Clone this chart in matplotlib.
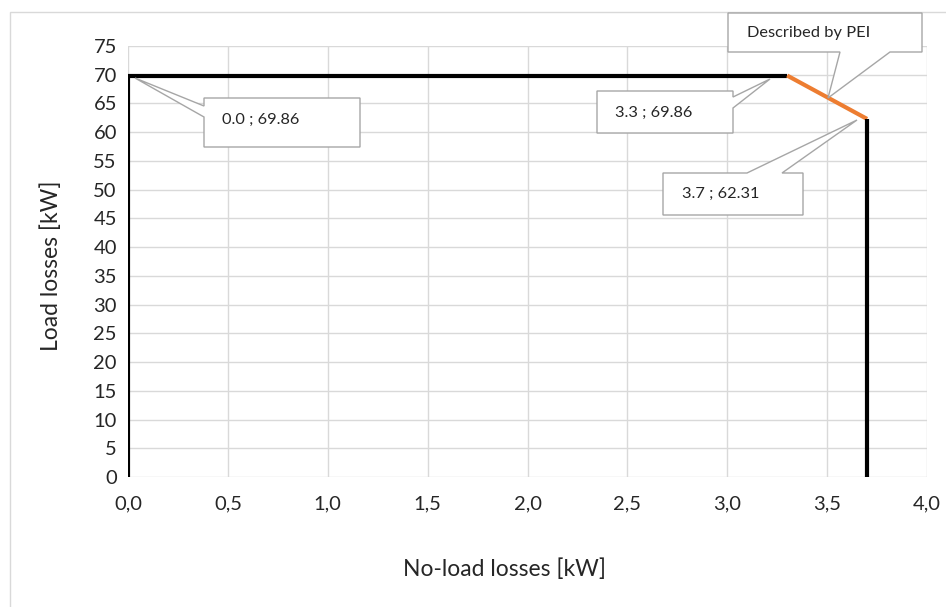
import matplotlib
matplotlib.use("Agg")
import matplotlib.pyplot as plt
from matplotlib.patches import Polygon, Rectangle
from matplotlib.transforms import IdentityTransform

plt.rcParams['font.family'] = ['Lato', 'DejaVu Sans']

# Дані кривої
xBlack1 = [0.0, 0.0, 3.3]
yBlack1 = [0.0, 69.86, 69.86]
xOrange = [3.3, 3.7]
yOrange = [69.86, 62.31]
xBlack2 = [3.7, 3.7]
yBlack2 = [62.31, 0.0]

xTicks = [0.0, 0.5, 1.0, 1.5, 2.0, 2.5, 3.0, 3.5, 4.0]
yTicks = list(range(0, 80, 5))

labels = ["0.0 ; 69.86", "3.3 ; 69.86", "3.7 ; 62.31", "Described by PEI"]

W, H = 946, 607
fig = plt.figure(figsize=(W / 100, H / 100), dpi=100)
ax = fig.add_axes([128 / W, 1 - 477 / H, (927 - 128) / W, (477 - 46) / H])

gridColor = '#d9d9d9'
textColor = '#262626'
ax.set_xlim(0, 4)
ax.set_ylim(0, 75)
ax.set_xticks(xTicks)
ax.set_xticklabels([f"{t:.1f}".replace('.', ',') for t in xTicks])
ax.set_yticks(yTicks)
ax.grid(True, color=gridColor, linewidth=1)
ax.set_axisbelow(True)
for s in ax.spines.values():
    s.set_visible(False)
ax.tick_params(length=0, labelsize=14.5, colors=textColor, pad=8)
ax.tick_params(axis='x', pad=13)

ax.plot(xBlack1, yBlack1, color='black', lw=3, solid_capstyle='butt', zorder=3)
ax.plot(xOrange, yOrange, color='#ED7D31', lw=3, solid_capstyle='butt', zorder=3)
ax.plot(xBlack2, yBlack2, color='black', lw=3, solid_capstyle='butt', zorder=3)

fig.text(504 / W, 1 - 569 / H, "No-load losses [kW]", ha='center', va='center',
         fontsize=16.5, color=textColor)
fig.text(51 / W, 1 - 266 / H, "Load losses [kW]", ha='center', va='center',
         rotation=90, fontsize=16.5, color=textColor)

# Рамка діаграми
fig.add_artist(Rectangle((10 / W, -0.1), 1.2, 1 - 12 / H + 0.1, transform=fig.transFigure,
                         fill=False, edgecolor=gridColor, lw=1))


# Виноски (у пікселях, y зверху)
def callout(points, text, tx, ty):
    pts = [(px, H - py) for px, py in points]
    fig.add_artist(Polygon(pts, closed=True, transform=IdentityTransform(),
                           facecolor='white', edgecolor='#a6a6a6', lw=1, zorder=5))
    fig.text(tx / W, 1 - ty / H, text, ha='left', va='center', fontsize=11.8,
             color=textColor, zorder=6)


callout([(204, 98), (360, 98), (360, 147), (204, 147), (204, 117), (135, 78), (204, 106)],
        labels[0], 222, 120)
callout([(597, 91), (733, 91), (733, 97), (770, 79), (733, 108), (733, 133), (597, 133)],
        labels[1], 615, 113)
callout([(663, 173), (747, 173), (857, 120), (782, 173), (803, 173), (803, 215), (663, 215)],
        labels[2], 682, 194)
callout([(728, 13), (922, 13), (922, 52), (890, 52), (828, 98), (840, 52), (728, 52)],
        labels[3], 747, 33)

fig.savefig("out.png", dpi=100)
